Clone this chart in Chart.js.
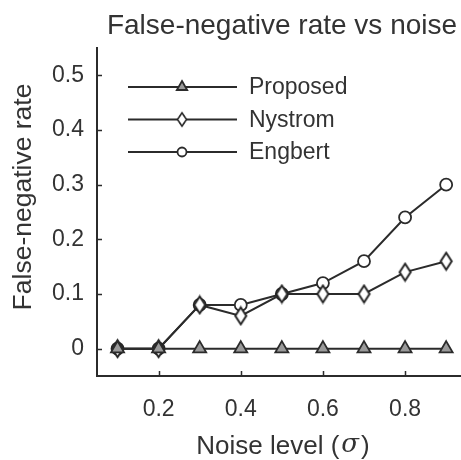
<!DOCTYPE html>
<html>
<head>
<meta charset="utf-8">
<script src="https://cdn.jsdelivr.net/npm/chart.js@4.4.0/dist/chart.umd.min.js"></script>
<style>
html,body{margin:0;padding:0;background:#fff;overflow:hidden;}
#wrap{width:476px;height:460px;}
</style>
</head>
<body>
<div id="wrap"><canvas id="c" width="476" height="460"></canvas></div>
<script>
const noiseLevels = [0.1, 0.2, 0.3, 0.4, 0.5, 0.6, 0.7, 0.8, 0.9];
const proposed = [0, 0, 0, 0, 0, 0, 0, 0, 0];
const nystrom  = [0, 0, 0.08, 0.06, 0.10, 0.10, 0.10, 0.14, 0.16];
const engbert  = [0, 0, 0.08, 0.08, 0.10, 0.12, 0.16, 0.24, 0.30];
const seriesLabels = ['Proposed', 'Nystrom', 'Engbert'];
const xTicks = [0.2, 0.4, 0.6, 0.8];
const yTicks = [0, 0.1, 0.2, 0.3, 0.4, 0.5];
const chartTitle = 'False-negative rate vs noise';
const yTitle = 'False-negative rate';
const xTitleMain = 'Noise level (';
const xTitleSym = 'σ';
const xTitleEnd = ')';

const FONT = '"Liberation Sans", Arial, Helvetica, sans-serif';
const LINE = '#2b2b2b';
const TEXT = '#333333';

function diamond(w, h) {
  const c = document.createElement('canvas');
  c.width = w + 4; c.height = h + 4;
  const g = c.getContext('2d');
  const cx = c.width / 2, cy = c.height / 2;
  g.beginPath();
  g.moveTo(cx, cy - h / 2); g.lineTo(cx + w / 2, cy); g.lineTo(cx, cy + h / 2); g.lineTo(cx - w / 2, cy); g.closePath();
  g.fillStyle = '#ffffff'; g.fill();
  g.lineWidth = 2; g.strokeStyle = '#222222'; g.stroke();
  return c;
}
const diamondImg = diamond(11, 17);

function pts(arr) { return noiseLevels.map((x, i) => ({x: x, y: arr[i]})); }

function drawShape(ctx, style, r, x, y) {
  if (style === 'triangle') {
    ctx.moveTo(x, y - r);
    ctx.lineTo(x + r * Math.sin(2 * Math.PI / 3), y - r * Math.cos(2 * Math.PI / 3));
    ctx.lineTo(x + r * Math.sin(4 * Math.PI / 3), y - r * Math.cos(4 * Math.PI / 3));
    ctx.closePath();
  } else if (style === 'circle') {
    ctx.arc(x, y, r, 0, Math.PI * 2);
  }
}

const decor = {
  id: 'decor',
  afterDraw(chart) {
    const ctx = chart.ctx;
    const a = chart.chartArea;
    const xs = chart.scales.x, ys = chart.scales.y;
    ctx.save();
    ctx.strokeStyle = LINE; ctx.lineWidth = 1.5;
    ctx.beginPath();
    yTicks.forEach(v => { const p = Math.round(ys.getPixelForValue(v)) + 0.5; ctx.moveTo(a.left, p); ctx.lineTo(a.left + 5, p); });
    xTicks.forEach(v => { const p = Math.round(xs.getPixelForValue(v)) + 0.5; ctx.moveTo(p, a.bottom); ctx.lineTo(p, a.bottom - 5); });
    ctx.stroke();
    ctx.fillStyle = TEXT;
    ctx.textAlign = 'center'; ctx.textBaseline = 'alphabetic';
    ctx.font = '28px ' + FONT;
    ctx.fillText(chartTitle, 282, 34);
    ctx.save();
    ctx.translate(31, 197);
    ctx.rotate(-Math.PI / 2);
    ctx.font = '26.5px ' + FONT;
    ctx.fillText(yTitle, 0, 0);
    ctx.restore();
    ctx.font = '26px ' + FONT;
    const w1 = ctx.measureText(xTitleMain).width;
    const w3 = ctx.measureText(xTitleEnd).width;
    ctx.font = 'italic 26px "DejaVu Serif", "Liberation Serif", serif';
    const w2 = ctx.measureText(xTitleSym).width + 4;
    const total = w1 + w2 + w3;
    let x0 = 283 - total / 2;
    ctx.textAlign = 'left';
    ctx.font = '26px ' + FONT;
    ctx.fillText(xTitleMain, x0, 454);
    ctx.font = 'italic 26px "DejaVu Serif", "Liberation Serif", serif';
    ctx.fillText(xTitleSym, x0 + w1 + 2, 452);
    ctx.font = '26px ' + FONT;
    ctx.fillText(xTitleEnd, x0 + w1 + w2, 454);
    chart.data.datasets.forEach((ds, i) => {
      const y = 87 + i * 32.5;
      ctx.strokeStyle = ds.borderColor; ctx.lineWidth = ds.borderWidth;
      ctx.beginPath(); ctx.moveTo(128, y); ctx.lineTo(237, y); ctx.stroke();
      if (typeof ds.pointStyle === 'string') {
        ctx.fillStyle = ds.pointBackgroundColor; ctx.strokeStyle = ds.pointBorderColor; ctx.lineWidth = ds.pointBorderWidth;
        ctx.beginPath();
        drawShape(ctx, ds.pointStyle, ds.pointRadius - 1.5, 182, y);
        ctx.fill(); ctx.stroke();
      } else {
        const im = ds.pointStyle;
        ctx.drawImage(im, 182 - im.width * 0.4, y - im.height * 0.4, im.width * 0.8, im.height * 0.8);
      }
      ctx.fillStyle = TEXT; ctx.font = '23px ' + FONT; ctx.textAlign = 'left'; ctx.textBaseline = 'middle';
      ctx.fillText(ds.label, 249, y + 1);
    });
    ctx.restore();
  }
};

function ds(label, data, style, radius, fill) {
  return {
    label: label, data: pts(data),
    borderColor: LINE, borderWidth: 2,
    pointStyle: style, pointRadius: radius, pointHoverRadius: radius,
    pointBackgroundColor: fill, pointBorderColor: LINE, pointBorderWidth: 1.8,
    tension: 0, clip: false
  };
}

new Chart(document.getElementById('c'), {
  type: 'line',
  data: {
    datasets: [
      ds(seriesLabels[0], proposed, 'triangle', 7.5, '#9a9a9a'),
      ds(seriesLabels[1], nystrom, diamondImg, 7, '#ffffff'),
      ds(seriesLabels[2], engbert, 'circle', 6, '#ffffff')
    ]
  },
  options: {
    responsive: false,
    animation: false,
    events: [],
    layout: { padding: { top: 48, right: 3, left: 0, bottom: 0 } },
    plugins: { legend: { display: false }, title: { display: false }, tooltip: { enabled: false } },
    scales: {
      x: {
        type: 'linear', min: 0.05, max: 0.95,
        grid: { display: false },
        border: { display: true, color: LINE, width: 2 },
        afterBuildTicks: s => { s.ticks = xTicks.map(v => ({value: v})); },
        afterFit: s => { s.height = 84; },
        ticks: { color: TEXT, font: { family: FONT, size: 23 }, padding: 12, maxRotation: 0, autoSkip: false }
      },
      y: {
        type: 'linear', min: -0.05, max: 0.55,
        grid: { display: false },
        border: { display: true, color: LINE, width: 2 },
        afterBuildTicks: s => { s.ticks = yTicks.map(v => ({value: v})); },
        afterFit: s => { s.width = 97; },
        ticks: { color: TEXT, font: { family: FONT, size: 23 }, padding: 5, autoSkip: false }
      }
    }
  },
  plugins: [decor]
});
</script>
</body>
</html>
